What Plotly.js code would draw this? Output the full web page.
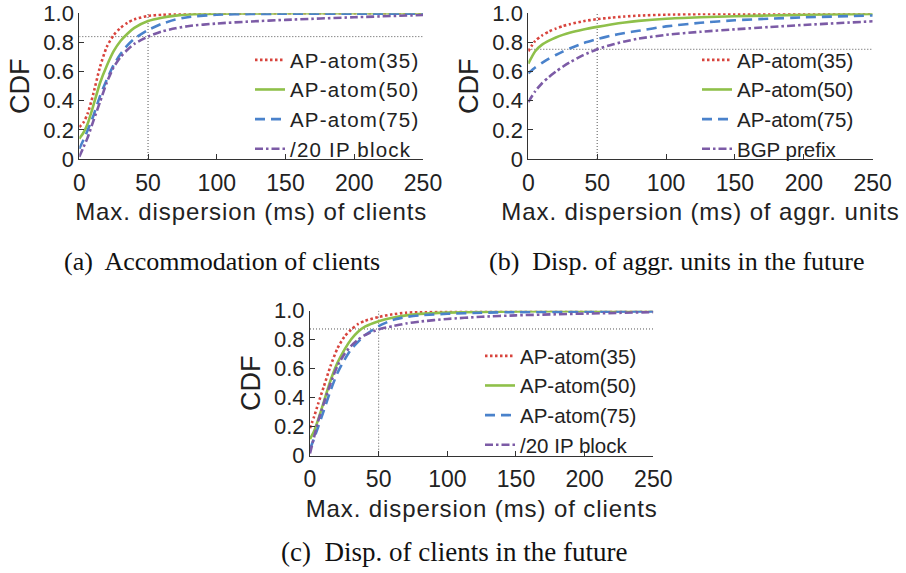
<!DOCTYPE html>
<html>
<head>
<meta charset="utf-8">
<script src="https://cdn.plot.ly/plotly-3.0.1.min.js"></script>
<style>
  html, body { margin: 0; padding: 0; background: #fff; }
  #chart { width: 906px; height: 573px; }
  /* slightly airy sans-serif lettering for legend entries and axis titles */
  .legendtext { letter-spacing: 1.2px; }
  .xtitle, .x2title, .x3title { letter-spacing: 0.9px; }
</style>
</head>
<body>
<div id="chart"></div>
<script>
// Series names (shared by all three panels; last one differs in panel b)
const seriesNames = ['AP-atom(35)', 'AP-atom(50)', 'AP-atom(75)', '/20 IP block'];
const seriesNamesB = ['AP-atom(35)', 'AP-atom(50)', 'AP-atom(75)', 'BGP prefix'];

// (a) Accommodation of clients
const xA = [0, 3, 6, 10, 15, 20, 25, 30, 35, 40, 50, 60, 70, 80, 100, 125, 150, 200, 250];
const a35 = [0.22, 0.25, 0.31, 0.44, 0.63, 0.77, 0.85, 0.90, 0.935, 0.958, 0.982, 0.99, 0.995, 0.997, 0.999, 1, 1, 1, 1];
const a50 = [0.14, 0.18, 0.24, 0.36, 0.52, 0.64, 0.74, 0.81, 0.86, 0.90, 0.947, 0.97, 0.984, 0.992, 0.997, 0.999, 1, 1, 1];
const a75 = [0.07, 0.13, 0.195, 0.29, 0.43, 0.545, 0.645, 0.72, 0.78, 0.825, 0.885, 0.928, 0.957, 0.975, 0.99, 0.995, 0.997, 0.998, 0.998];
const aBlk = [0.015, 0.08, 0.145, 0.255, 0.39, 0.525, 0.63, 0.70, 0.75, 0.79, 0.84, 0.875, 0.897, 0.913, 0.93, 0.944, 0.955, 0.973, 0.988];
const refA = [50, 0.84];

// (b) Disp. of aggr. units in the future
const xB = [0, 5, 10, 15, 20, 25, 30, 40, 50, 60, 70, 80, 100, 125, 150, 175, 200, 250];
const b35 = [0.74, 0.81, 0.848, 0.875, 0.895, 0.912, 0.925, 0.946, 0.96, 0.97, 0.978, 0.984, 0.991, 0.995, 0.997, 0.998, 0.999, 1.0];
const b50 = [0.655, 0.74, 0.785, 0.812, 0.834, 0.852, 0.867, 0.889, 0.907, 0.923, 0.937, 0.948, 0.963, 0.973, 0.98, 0.985, 0.99, 0.995];
const b75 = [0.588, 0.628, 0.66, 0.689, 0.714, 0.737, 0.758, 0.795, 0.823, 0.846, 0.865, 0.88, 0.91, 0.935, 0.952, 0.963, 0.972, 0.985];
const bBgp = [0.39, 0.465, 0.52, 0.563, 0.60, 0.633, 0.663, 0.713, 0.753, 0.783, 0.807, 0.826, 0.852, 0.873, 0.89, 0.906, 0.92, 0.945];
const refB = [50, 0.753];

// (c) Disp. of clients in the future
const xC = [0, 3, 6, 10, 15, 20, 25, 30, 35, 40, 50, 60, 70, 80, 100, 125, 150, 200, 250];
const c35 = [0.19, 0.27, 0.36, 0.475, 0.62, 0.74, 0.82, 0.87, 0.908, 0.93, 0.957, 0.975, 0.986, 0.99, 0.995, 0.998, 0.999, 1, 1];
const c50 = [0.115, 0.17, 0.25, 0.37, 0.52, 0.64, 0.73, 0.803, 0.855, 0.89, 0.928, 0.952, 0.968, 0.978, 0.987, 0.992, 0.995, 0.997, 0.998];
const c75 = [0.045, 0.12, 0.20, 0.31, 0.45, 0.57, 0.66, 0.735, 0.785, 0.83, 0.894, 0.935, 0.957, 0.968, 0.979, 0.986, 0.99, 0.993, 0.995];
const cBlk = [0.015, 0.13, 0.24, 0.36, 0.50, 0.62, 0.70, 0.758, 0.80, 0.832, 0.871, 0.893, 0.912, 0.925, 0.943, 0.958, 0.968, 0.98, 0.99];
const refC = [50, 0.874];

// Axis ticks and labels
const xTicks = [0, 50, 100, 150, 200, 250];
const yTicks = [0, 0.2, 0.4, 0.6, 0.8, 1.0];
const yTickText = ['0', '0.2', '0.4', '0.6', '0.8', '1.0'];
const xTitles = ['Max. dispersion (ms) of clients', 'Max. dispersion (ms) of aggr. units', 'Max. dispersion (ms) of clients'];
const captions = ['(a)\u00a0 Accommodation of clients', '(b)\u00a0 Disp. of aggr. units in the future', '(c)\u00a0 Disp. of clients in the future'];

const styles = [
  { color: '#d8443d', dash: '2.5px,2.5px' },
  { color: '#8fc04a', dash: 'solid' },
  { color: '#4a82cb', dash: '10px,6px' },
  { color: '#7c5ba6', dash: '8px,3px,2.5px,3px' }
];
const SANS = 'Liberation Sans, Arial, Helvetica, sans-serif';
const SERIF = 'Liberation Serif, Times New Roman, serif';
const TXT = '#222222';

const panels = [
  { x: xA, ys: [a35, a50, a75, aBlk], names: seriesNames, ref: refA, xa: 'x', ya: 'y', lg: 'legend' },
  { x: xB, ys: [b35, b50, b75, bBgp], names: seriesNamesB, ref: refB, xa: 'x2', ya: 'y2', lg: 'legend2' },
  { x: xC, ys: [c35, c50, c75, cBlk], names: seriesNames, ref: refC, xa: 'x3', ya: 'y3', lg: 'legend3' }
];

const traces = [];
panels.forEach(p => {
  // dotted guide lines at the 50 ms mark
  traces.push({
    x: [0, 250], y: [p.ref[1], p.ref[1]], xaxis: p.xa, yaxis: p.ya,
    mode: 'lines', line: { color: '#555', width: 1, dash: '1px,2px' },
    showlegend: false, hoverinfo: 'skip'
  });
  traces.push({
    x: [p.ref[0], p.ref[0]], y: [0, 1], xaxis: p.xa, yaxis: p.ya,
    mode: 'lines', line: { color: '#555', width: 1, dash: '1px,2px' },
    showlegend: false, hoverinfo: 'skip'
  });
  p.ys.forEach((y, i) => {
    traces.push({
      x: p.x, y: y, xaxis: p.xa, yaxis: p.ya, legend: p.lg,
      name: p.names[i], mode: 'lines',
      line: { color: styles[i].color, dash: styles[i].dash, width: 2.6, shape: 'spline', smoothing: 0.6 }
    });
  });
});

const W = 906, H = 573;
const px = v => v / W;
const py = v => 1 - v / H;

function xaxis(domain, anchor, title) {
  return {
    domain: domain, anchor: anchor, range: [0, 250],
    tickvals: xTicks, ticks: 'inside', ticklen: 5, tickwidth: 1, tickcolor: '#333',
    ticklabelstandoff: 3,
    showline: true, linecolor: '#333', linewidth: 1, mirror: false,
    showgrid: false, zeroline: false,
    tickfont: { family: SANS, size: 23, color: TXT },
    title: { text: title, font: { family: SANS, size: 24, color: TXT }, standoff: 8 }
  };
}
function yaxis(domain, anchor) {
  return {
    domain: domain, anchor: anchor, range: [0, 1.0],
    tickvals: yTicks, ticktext: yTickText, ticks: 'inside', ticklen: 5, tickwidth: 1, tickcolor: '#333',
    showline: true, linecolor: '#333', linewidth: 1, mirror: false,
    showgrid: false, zeroline: false,
    tickfont: { family: SANS, size: 22, color: TXT },
    title: { text: 'CDF', font: { family: SANS, size: 27, color: TXT }, standoff: 5 }
  };
}
function legend(left, top) {
  return {
    x: px(left), y: py(top), xanchor: 'left', yanchor: 'top',
    bgcolor: 'rgba(0,0,0,0)', borderwidth: 0,
    font: { family: SANS, size: 20.5, color: TXT },
    tracegroupgap: 0, itemwidth: 30
  };
}
function caption(text, cx, cy, size) {
  return {
    text: text, x: px(cx), y: py(cy), xref: 'paper', yref: 'paper',
    xanchor: 'center', yanchor: 'middle', showarrow: false,
    font: { family: SERIF, size: size, color: '#111' }
  };
}

const layout = {
  width: W, height: H,
  margin: { l: 0, r: 0, t: 0, b: 0 },
  paper_bgcolor: '#fff', plot_bgcolor: 'rgba(0,0,0,0)',
  showlegend: true,
  xaxis: xaxis([px(79.3), px(423)], 'y', xTitles[0]),
  yaxis: yaxis([py(159), py(13.3)], 'x'),
  xaxis2: xaxis([px(528.3), px(872.7)], 'y2', xTitles[1]),
  yaxis2: yaxis([py(159), py(13.3)], 'x2'),
  xaxis3: xaxis([px(310), px(653.3)], 'y3', xTitles[2]),
  yaxis3: yaxis([py(455.7), py(310.7)], 'x3'),
  legend: legend(250, 40),
  legend2: legend(697, 40),
  legend3: legend(480, 336),
  annotations: [
    caption(captions[0], 222, 261, 26),
    caption(captions[1], 677, 261, 26),
    caption(captions[2], 454, 552, 27)
  ]
};

Plotly.newPlot('chart', traces, layout, { staticPlot: true, displayModeBar: false });
</script>
</body>
</html>
